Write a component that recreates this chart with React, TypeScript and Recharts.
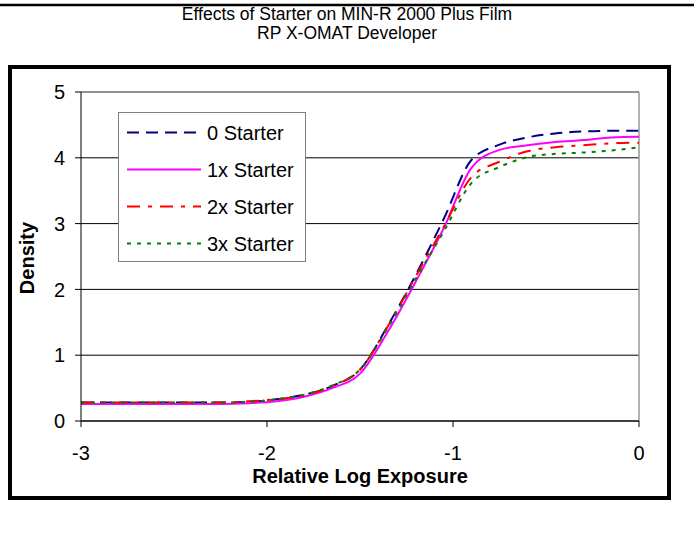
import React from 'react';
import { LineChart, Line, XAxis, YAxis, CartesianGrid, ReferenceLine, Legend } from 'recharts';

const exposures = [-3, -2.85, -2.7, -2.55, -2.4, -2.25, -2.1, -1.95, -1.8, -1.65, -1.5, -1.35, -1.2, -1.05, -0.9, -0.75, -0.6, -0.45, -0.3, -0.15, 0];
const starter0 = [0.28, 0.28, 0.28, 0.28, 0.28, 0.28, 0.29, 0.33, 0.40, 0.53, 0.78, 1.45, 2.22, 3.07, 3.97, 4.20, 4.31, 4.37, 4.40, 4.41, 4.41];
const starter1 = [0.26, 0.26, 0.26, 0.26, 0.26, 0.26, 0.27, 0.30, 0.37, 0.50, 0.72, 1.36, 2.12, 2.93, 3.85, 4.12, 4.19, 4.24, 4.27, 4.31, 4.32];
const starter2 = [0.28, 0.28, 0.28, 0.28, 0.28, 0.28, 0.30, 0.33, 0.39, 0.53, 0.78, 1.44, 2.20, 2.95, 3.71, 3.94, 4.10, 4.16, 4.19, 4.22, 4.23];
const starter3 = [0.28, 0.28, 0.28, 0.28, 0.28, 0.28, 0.29, 0.33, 0.40, 0.54, 0.78, 1.42, 2.16, 2.88, 3.62, 3.86, 4.01, 4.06, 4.08, 4.11, 4.16];

const seriesNames = ['0 Starter', '1x Starter', '2x Starter', '3x Starter'];
const seriesKeys = ['s0', 's1', 's2', 's3'];
const seriesColors = ['#000080', '#FF00FF', '#FF0000', '#008000'];
const seriesDashes = ['12 7', '', '13 8 4 8', '4 6'];

const xTicks = [-3, -2, -1, 0];
const yTicks = [0, 1, 2, 3, 4, 5];

const titleLines = ['Effects of Starter on MIN-R 2000 Plus Film', 'RP X-OMAT Developer'];
const xTitle = 'Relative Log Exposure';
const yTitle = 'Density';

const data = exposures.map((x, i) => ({
  x,
  s0: starter0[i],
  s1: starter1[i],
  s2: starter2[i],
  s3: starter3[i],
}));

const FONT = '"Liberation Sans", Arial, sans-serif';

const renderLegend = (props: any) => {
  const payload = props.payload || [];
  return (
    <div style={{ width: 186, height: 148, border: '1px solid #808080', background: '#fff', boxSizing: 'content-box' }}>
      <svg width={186} height={148}>
        {payload.map((p: any, i: number) => {
          const idx = seriesKeys.indexOf(p.dataKey);
          const cy = 19.5 + i * 37;
          return (
            <g key={i}>
              <line x1={8} x2={82} y1={cy} y2={cy} stroke={seriesColors[idx]} strokeWidth={2} strokeDasharray={seriesDashes[idx] || undefined} />
              <text x={88} y={cy} dy="0.355em" fontSize={20} fontFamily={FONT} fill="#000">{p.value}</text>
            </g>
          );
        })}
      </svg>
    </div>
  );
};

export default function App() {
  return (
    <div style={{ position: 'absolute', left: 0, top: 0, width: 694, height: 541, background: '#fff', fontFamily: FONT }}>
      <LineChart width={694} height={541} data={data} margin={{ top: 92, right: 55, bottom: 80, left: 21 }}>
        <CartesianGrid vertical={false} stroke="#000" strokeWidth={1} />
        <ReferenceLine y={5} stroke="#999" strokeWidth={1.5} />
        <ReferenceLine x={0} stroke="#999" strokeWidth={1.5} />
        <XAxis
          dataKey="x"
          type="number"
          domain={[-3, 0]}
          ticks={xTicks}
          height={40}
          tickSize={6}
          tickMargin={19}
          stroke="#000"
          tick={{ fontSize: 20, fill: '#000', fontFamily: FONT }}
          allowDataOverflow
        />
        <YAxis
          type="number"
          domain={[0, 5]}
          ticks={yTicks}
          width={60}
          tickSize={6}
          tickMargin={10}
          stroke="#000"
          tick={{ fontSize: 20, fill: '#000', fontFamily: FONT }}
          allowDataOverflow
        />
        {seriesKeys.map((k, i) => (
          <Line
            key={k}
            dataKey={k}
            name={seriesNames[i]}
            type="monotone"
            stroke={seriesColors[i]}
            strokeWidth={2}
            strokeDasharray={seriesDashes[i] || undefined}
            dot={false}
            activeDot={false}
            isAnimationActive={false}
          />
        ))}
        <Legend
          layout="vertical"
          align="center"
          verticalAlign="middle"
          content={renderLegend}
          wrapperStyle={{ position: 'absolute', left: 118, top: 112, width: 188, height: 150 }}
        />
      </LineChart>
      <svg width={694} height={541} style={{ position: 'absolute', left: 0, top: 0, pointerEvents: 'none' }}>
        <line x1={0} x2={694} y1={5} y2={5} stroke="#000" strokeWidth={2.5} />
        <rect x={10} y={67} width={659} height={431} fill="none" stroke="#000" strokeWidth={4} />
        <text x={347} y={20} textAnchor="middle" fontSize={17.5} fontFamily={FONT} fill="#000">{titleLines[0]}</text>
        <text x={347} y={39} textAnchor="middle" fontSize={17.5} fontFamily={FONT} fill="#000">{titleLines[1]}</text>
        <text x={360} y={483} textAnchor="middle" fontSize={20} fontWeight="bold" fontFamily={FONT} fill="#000">{xTitle}</text>
        <text transform="translate(34,258) rotate(-90)" x={0} y={0} textAnchor="middle" fontSize={20} fontWeight="bold" fontFamily={FONT} fill="#000">{yTitle}</text>
      </svg>
    </div>
  );
}
